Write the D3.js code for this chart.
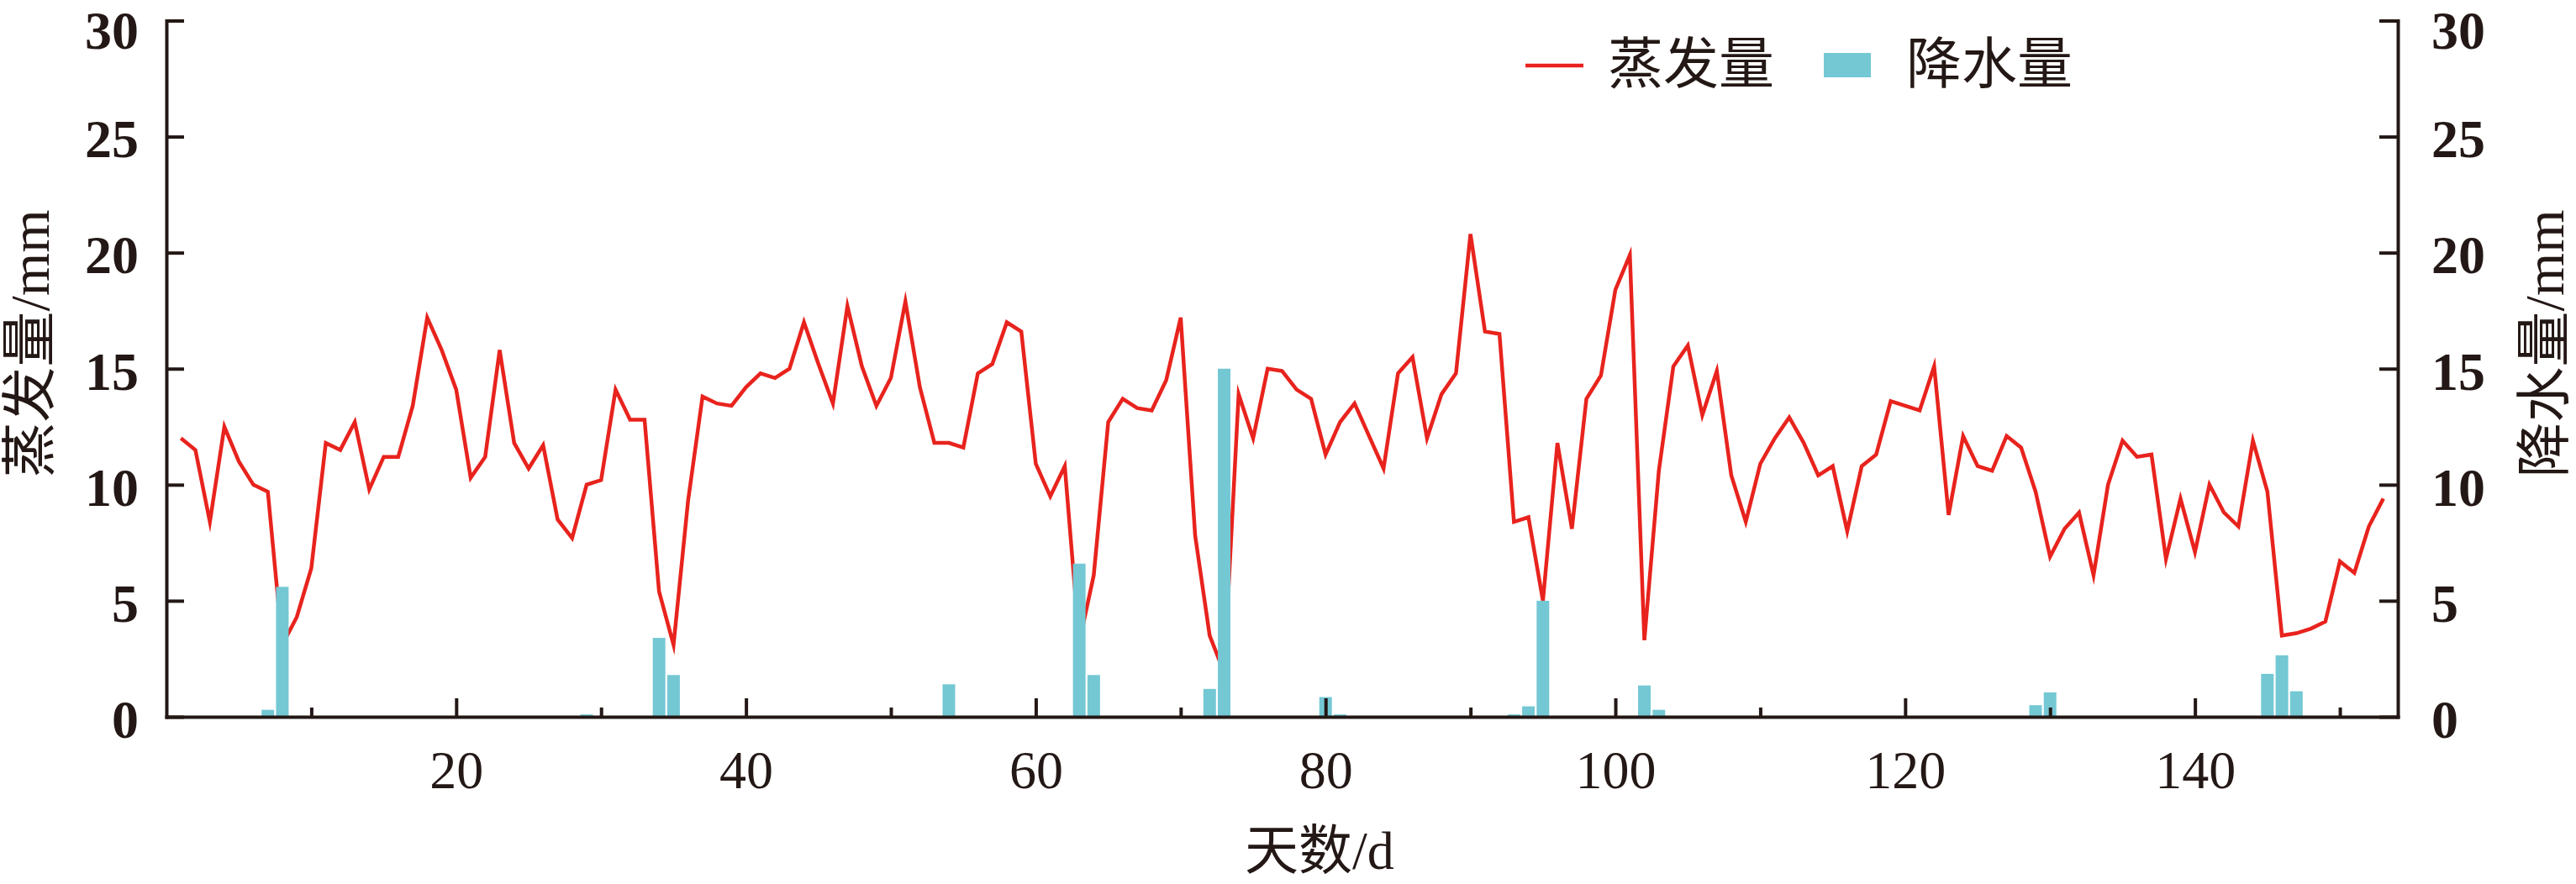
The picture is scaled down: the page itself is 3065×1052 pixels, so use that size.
<!DOCTYPE html>
<html><head><meta charset="utf-8">
<script src="https://cdn.jsdelivr.net/npm/d3@7"></script>
<style>
html,body{margin:0;padding:0;background:#fff;}
svg{display:block;}
</style></head>
<body>
<svg id="chart" width="3065" height="1052"></svg>
<script>
// ---- data ----
const days = d3.range(1, 154); // day index 1..153
const evaporation = [
  12.0, 11.5, 8.4, 12.5, 11.0, 10.0, 9.7, 3.1, 4.3, 6.4,
  11.8, 11.5, 12.7, 9.8, 11.2, 11.2, 13.4, 17.2, 15.8, 14.1,
  10.3, 11.2, 15.8, 11.8, 10.7, 11.7, 8.5, 7.7, 10.0, 10.2,
  14.1, 12.8, 12.8, 5.4, 3.1, 9.3, 13.8, 13.5, 13.4, 14.2,
  14.8, 14.6, 15.0, 17.0, 15.2, 13.5, 17.7, 15.1, 13.4, 14.6,
  17.9, 14.2, 11.8, 11.8, 11.6, 14.8, 15.2, 17.0, 16.6, 10.9,
  9.5, 10.8, 3.2, 6.1, 12.7, 13.7, 13.3, 13.2, 14.5, 17.2,
  7.8, 3.5, 1.9, 13.9, 12.0, 15.0, 14.9, 14.1, 13.7, 11.3,
  12.7, 13.5, 12.1, 10.7, 14.8, 15.5, 12.0, 13.9, 14.8, 20.8,
  16.6, 16.5, 8.4, 8.6, 5.0, 11.8, 8.1, 13.7, 14.7, 18.4,
  19.9, 3.3, 10.6, 15.1, 16.0, 13.0, 14.9, 10.4, 8.4, 10.9,
  12.0, 12.9, 11.8, 10.4, 10.8, 8.0, 10.8, 11.3, 13.6, 13.4,
  13.2, 15.1, 8.7, 12.1, 10.8, 10.6, 12.1, 11.6, 9.7, 6.9,
  8.1, 8.8, 6.1, 10.0, 11.9, 11.2, 11.3, 6.8, 9.4, 7.1,
  10.0, 8.8, 8.2, 11.9, 9.7, 3.5, 3.6, 3.8, 4.1, 6.7,
  6.2, 8.2, 9.4
];
const rainDays   = [7, 8, 29, 34, 35, 54, 63, 64, 72, 73, 80, 81, 93, 94, 95, 102, 103, 129, 130, 145, 146, 147];
const rainValues = [0.3, 5.6, 0.1, 3.4, 1.8, 1.4, 6.6, 1.8, 1.2, 15.0, 0.85, 0.1, 0.1, 0.45, 5.0, 1.35, 0.3, 0.5, 1.05, 1.85, 2.65, 1.1];
const xMajorTicks = [20, 40, 60, 80, 100, 120, 140];
const xMinorTicks = [10, 30, 50, 70, 90, 110, 130, 150];
const yTicks = [0, 5, 10, 15, 20, 25, 30];
const seriesNames = ["蒸发量", "降水量"];
const yLeftTitle = "蒸发量/mm";
const yRightTitle = "降水量/mm";
const xTitle = "天数/d";

// ---- styles ----
const INK = "#231815";
const RED = "#e8231d";
const CYAN = "#74c8d4";
const NUMFONT = "'Liberation Serif','Times New Roman',serif";
const CJKFONT = "'Liberation Serif','Noto Sans CJK SC',serif";

const svg = d3.select("#chart");
const x = d3.scaleLinear().domain([0, 154]).range([198, 2853]);
const yL = d3.scaleLinear().domain([0, 30]).range([853, 24.5]);
const yR = d3.scaleLinear().domain([0, 30]).range([853, 24.5]);

// evaporation line
svg.append("path")
  .datum(days.map((d, i) => [d, evaporation[i]]))
  .attr("d", d3.line().x(d => x(d[0])).y(d => yL(d[1])))
  .attr("fill", "none")
  .attr("stroke", RED)
  .attr("stroke-width", 4.5)
  .attr("stroke-linejoin", "miter")
  .attr("stroke-miterlimit", 6);

// precipitation bars
const barW = 15;
svg.append("g").selectAll("rect")
  .data(rainDays.map((d, i) => [d, rainValues[i]]))
  .join("rect")
  .attr("x", d => x(d[0]) - barW / 2)
  .attr("width", barW)
  .attr("y", d => yR(d[1]))
  .attr("height", d => yR(0) - yR(d[1]))
  .attr("fill", CYAN);

function styleAxis(g) {
  g.select(".domain").attr("stroke", INK).attr("stroke-width", 4).attr("stroke-linecap", "square");
  g.selectAll(".tick line").attr("stroke", INK).attr("stroke-width", 4);
  g.selectAll(".tick text").attr("fill", INK);
}

// x axis minor ticks
const gxMinor = svg.append("g").attr("transform", "translate(0,853)")
  .call(d3.axisBottom(x).tickValues(xMinorTicks).tickSizeInner(-11).tickSizeOuter(0).tickFormat(""));
gxMinor.select(".domain").remove();
gxMinor.selectAll(".tick line").attr("stroke", INK).attr("stroke-width", 4);

// x axis major
const gx = svg.append("g").attr("transform", "translate(0,853)")
  .call(d3.axisBottom(x).tickValues(xMajorTicks).tickSizeInner(-22).tickSizeOuter(0).tickPadding(40).tickFormat(d3.format("d")));
styleAxis(gx);
gx.selectAll(".tick text").attr("font-family", NUMFONT).attr("font-size", 64);

const labelDy = d => (d === 30 ? "0.52em" : "0.38em");

// left axis
const gyL = svg.append("g").attr("transform", "translate(198,0)")
  .call(d3.axisLeft(yL).tickValues(yTicks).tickSizeInner(-21).tickSizeOuter(0).tickPadding(33).tickFormat(d3.format("d")));
styleAxis(gyL);
gyL.selectAll(".tick text").attr("font-family", NUMFONT).attr("font-size", 64).attr("font-weight", "bold").attr("dy", labelDy);

// right axis
const gyR = svg.append("g").attr("transform", "translate(2853,0)")
  .call(d3.axisRight(yR).tickValues(yTicks).tickSizeInner(-22).tickSizeOuter(0).tickPadding(40).tickFormat(d3.format("d")));
styleAxis(gyR);
gyR.selectAll(".tick text").attr("font-family", NUMFONT).attr("font-size", 64).attr("font-weight", "bold").attr("dy", labelDy);

// axis titles
svg.append("text")
  .attr("transform", "translate(58,409) rotate(-90)")
  .attr("text-anchor", "middle")
  .attr("font-family", CJKFONT).attr("font-size", 66).attr("fill", INK)
  .text(yLeftTitle);
svg.append("text")
  .attr("transform", "translate(3050,409) rotate(-90)")
  .attr("text-anchor", "middle")
  .attr("font-family", CJKFONT).attr("font-size", 66).attr("fill", INK)
  .text(yRightTitle);
svg.append("text")
  .attr("x", 1481).attr("y", 1034)
  .attr("font-family", CJKFONT).attr("font-size", 64).attr("fill", INK)
  .text(xTitle);

// legend
const lg = svg.append("g");
lg.append("line").attr("x1", 1815).attr("x2", 1884).attr("y1", 78).attr("y2", 78)
  .attr("stroke", RED).attr("stroke-width", 4.5);
lg.append("text").attr("x", 1913).attr("y", 99)
  .attr("font-family", CJKFONT).attr("font-size", 66).attr("fill", INK).text(seriesNames[0]);
lg.append("rect").attr("x", 2170).attr("y", 63).attr("width", 56).attr("height", 29).attr("fill", CYAN);
lg.append("text").attr("x", 2268).attr("y", 99)
  .attr("font-family", CJKFONT).attr("font-size", 66).attr("fill", INK).text(seriesNames[1]);
</script>
</body></html>
